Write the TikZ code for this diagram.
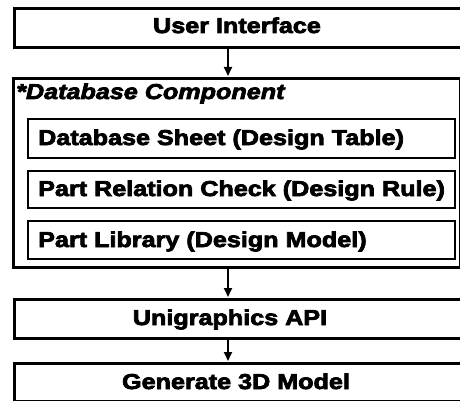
\documentclass[tikz,border=0pt]{standalone}
\usepackage{fontspec}
\usetikzlibrary{arrows.meta}
% heavy, wide sans for all labels
\newfontfamily\heavy[FakeBold=3.5,FakeStretch=1.17]{Liberation Sans Bold}
\newfontfamily\heavyit[FakeBold=3.5,FakeStretch=1.17]{Liberation Sans Bold Italic}
\tikzset{
  outerbox/.style={draw=black, line width=3pt, inner sep=0pt, anchor=north west, fill=none},
  innerbox/.style={draw=black, line width=2pt, inner sep=0pt, anchor=north west},
  lbl/.style={font=\heavy\fontsize{21.5}{24}\selectfont, inner sep=0pt, anchor=base},
  lblleft/.style={lbl, anchor=base west},
  flow/.style={draw=black, line width=2pt, -{Triangle[length=9pt,width=8pt]}, shorten >=1pt}
}
\begin{document}
\begin{tikzpicture}[x=1pt,y=-1pt]
\useasboundingbox[fill=white] (0,0) rectangle (460,401);

% top-level blocks
\node[outerbox, minimum width=470pt, minimum height=39pt] (ui) at (13,7) {};
\node[outerbox, minimum width=447pt, minimum height=189pt] (db) at (12,77) {};
\node[outerbox, minimum width=470pt, minimum height=39pt] (api) at (13,298) {};
\node[outerbox, minimum width=470pt, minimum height=38pt] (gen) at (13,362) {};

% database sub-components
\node[innerbox, minimum width=427pt, minimum height=39pt] (sheet) at (27,118) {};
\node[innerbox, minimum width=427pt, minimum height=37pt] (rule) at (27,170) {};
\node[innerbox, minimum width=427pt, minimum height=38pt] (lib) at (27,220) {};

% labels
\node[lbl] (uitxt) at (237,33) {User Interface};
\node[lblleft, font=\heavyit\fontsize{21.5}{24}\selectfont] (dbtxt) at (16,99) {*Database Component};
\node[lblleft] (sheettxt) at (38,145) {Database Sheet (Design Table)};
\node[lblleft] (ruletxt) at (38,196) {Part Relation Check (Design Rule)};
\node[lblleft] (libtxt) at (38,247) {Part Library (Design Model)};
\node[lbl] (apitxt) at (230,325) {Unigraphics API};
\node[lbl] (gentxt) at (236,389) {Generate 3D Model};

% flow arrows
\coordinate (ax) at (228,0);
\draw[flow] (ui.south -| ax) -- (db.north -| ax);
\draw[flow] (db.south -| ax) -- (api.north -| ax);
\draw[flow] (api.south -| ax) -- (gen.north -| ax);
\end{tikzpicture}
\end{document}
